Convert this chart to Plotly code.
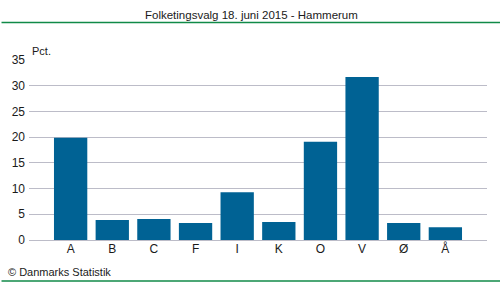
import plotly.graph_objects as go

parties = ["A", "B", "C", "F", "I", "K", "O", "V", "Ø", "Å"]
pct = [19.9, 3.9, 4.1, 3.3, 9.3, 3.5, 19.1, 31.7, 3.3, 2.5]
y_ticks = [0, 5, 10, 15, 20, 25, 30, 35]

title_text = "Folketingsvalg 18. juni 2015 - Hammerum"
unit_text = "Pct."
source_text = "© Danmarks Statistik"

font_fam = "Liberation Sans, Arial, sans-serif"
grid_col = "#bcbcc8"
green = "#108a48"
txt = "#1a1a1a"

fig = go.Figure(go.Bar(
    x=parties, y=pct, marker=dict(color="#006294", line=dict(width=0)),
    hoverinfo="x+y",
))

fig.update_layout(
    width=500, height=282,
    margin=dict(l=26, r=13, t=60, b=42),
    paper_bgcolor="white", plot_bgcolor="white",
    bargap=0.2,
    showlegend=False,
    font=dict(family=font_fam, size=11, color=txt),
    xaxis=dict(
        type="category", range=[-1.0, 10.0],
        showgrid=False, showline=False, zeroline=False,
        ticks="", tickfont=dict(size=12, color=txt),
        fixedrange=True,
    ),
    yaxis=dict(
        range=[0, 35], tickvals=y_ticks,
        showgrid=True, gridcolor=grid_col, gridwidth=1,
        zeroline=True, zerolinecolor=grid_col, zerolinewidth=1,
        showline=False, ticks="", ticklabelstandoff=3,
        tickfont=dict(size=12, color=txt),
        fixedrange=True,
    ),
    shapes=[
        dict(type="line", xref="paper", yref="paper", x0=-0.06, x1=1.03,
             y0=(282 - 22.5 - 42) / 180, y1=(282 - 22.5 - 42) / 180,
             line=dict(color=green, width=1.5)),
        dict(type="line", xref="paper", yref="paper", x0=-0.06, x1=1.03,
             y0=-(281 - 240) / 180, y1=-(281 - 240) / 180,
             line=dict(color=green, width=1.5)),
    ],
    annotations=[
        dict(text=title_text, xref="paper", yref="paper",
             x=(250 - 26) / 461, y=(282 - 15 - 42) / 180,
             xanchor="center", yanchor="middle", showarrow=False,
             font=dict(size=11.5, color=txt)),
        dict(text=unit_text, xref="paper", yref="paper",
             x=(27 - 26) / 461, y=(282 - 51 - 42) / 180,
             xanchor="left", yanchor="middle", showarrow=False,
             font=dict(size=11, color=txt)),
        dict(text=source_text, xref="paper", yref="paper",
             x=(3 - 26) / 461, y=-(272 - 240) / 180,
             xanchor="left", yanchor="middle", showarrow=False,
             font=dict(size=11, color=txt)),
    ],
)

fig.write_html("out.html", config={"displayModeBar": False})
